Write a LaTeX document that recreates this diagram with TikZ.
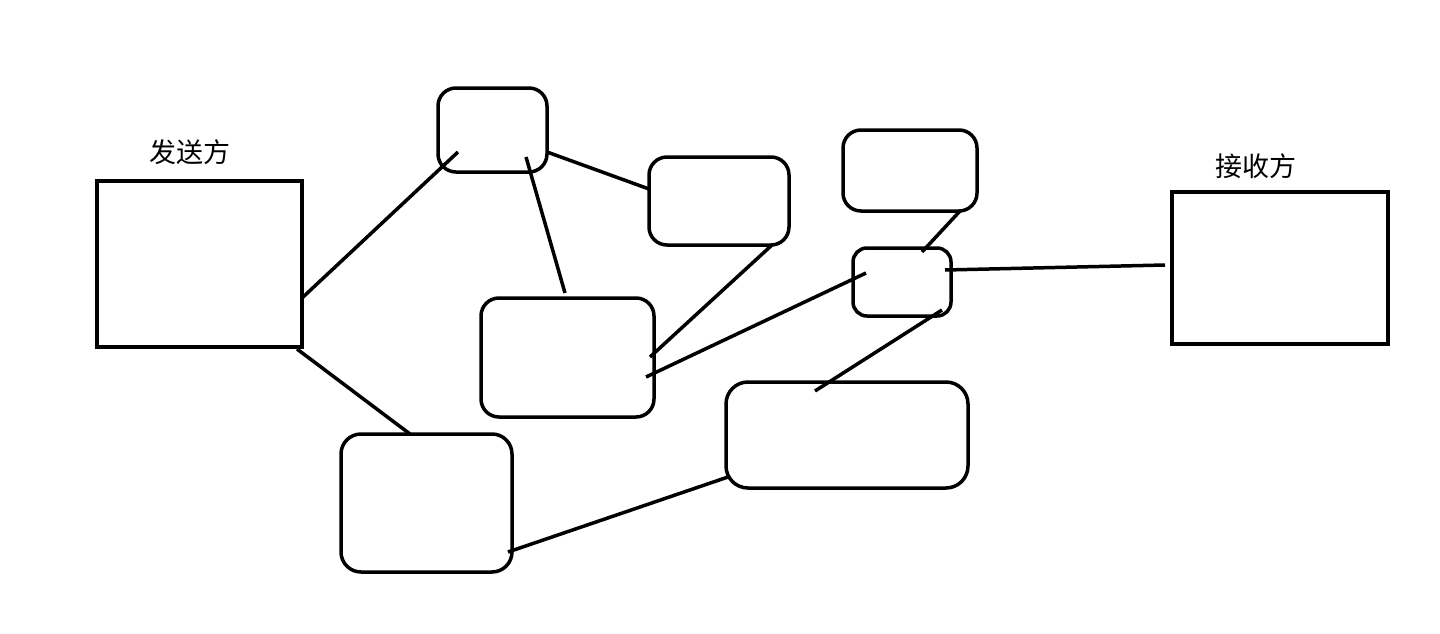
\documentclass[tikz,border=0pt]{standalone}
\usepackage{fontspec}
\newfontfamily\cjk{Noto Sans CJK SC}
\begin{document}
\begin{tikzpicture}[x=1pt,y=-1pt,
  rbox/.style={draw=black,line width=3.5pt,rounded corners=18pt,inner sep=0pt,outer sep=0pt},
  link/.style={draw=black,line width=3.5pt},
  lbl/.style={font=\cjk\fontsize{27}{30}\selectfont,inner sep=0pt}]
\useasboundingbox (0,0) rectangle (1440,634);
\node[rbox,minimum width=205pt,minimum height=166pt,rounded corners=0pt] (S) at (199.5,264) {};
\node[rbox,minimum width=216pt,minimum height=152pt,rounded corners=0pt] (R) at (1280,268) {};
\node[lbl] (St) at (190,152) {发送方};
\node[lbl] (Rt) at (1256,166) {接收方};
\node[rbox,minimum width=109pt,minimum height=84pt] (A) at (492.5,130) {};
\node[rbox,minimum width=140pt,minimum height=88pt] (B) at (719,201) {};
\node[rbox,minimum width=173pt,minimum height=119pt] (C) at (567.5,357.5) {};
\node[rbox,minimum width=171pt,minimum height=138pt,rounded corners=20pt] (D) at (426.5,503) {};
\node[rbox,minimum width=242pt,minimum height=106pt,rounded corners=22pt] (E) at (847,435) {};
\node[rbox,minimum width=134pt,minimum height=81pt] (F) at (910,170.5) {};
\node[rbox,minimum width=98pt,minimum height=68pt,rounded corners=14pt] (G) at (902,282) {};
% connector end points
\coordinate (s1) at (302,298); \coordinate (a1) at (458,152);
\coordinate (s2) at (297,349); \coordinate (d1) at (410,434);
\coordinate (a2) at (547,152); \coordinate (b1) at (649,189);
\coordinate (a3) at (526,157); \coordinate (c1) at (565,293);
\coordinate (b2) at (772,245); \coordinate (c2) at (650,357);
\coordinate (c3) at (646,377); \coordinate (g1) at (866,273);
\coordinate (f1) at (960,211); \coordinate (g2) at (922,252);
\coordinate (g3) at (945,270); \coordinate (r1) at (1165,265);
\coordinate (g4) at (942,310); \coordinate (e1) at (815,391);
\coordinate (d2) at (508,552); \coordinate (e2) at (728,477);
\draw[link] (s1) -- (a1);
\draw[link] (s2) -- (d1);
\draw[link] (a2) -- (b1);
\draw[link] (a3) -- (c1);
\draw[link] (b2) -- (c2);
\draw[link] (c3) -- (g1);
\draw[link] (f1) -- (g2);
\draw[link] (g3) -- (r1);
\draw[link] (g4) -- (e1);
\draw[link] (d2) -- (e2);
\end{tikzpicture}
\end{document}
